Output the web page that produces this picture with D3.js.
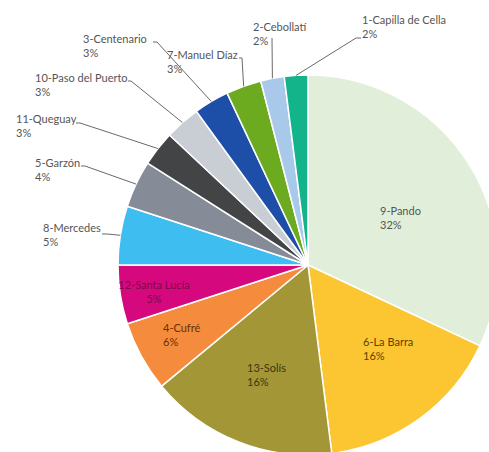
<!DOCTYPE html>
<html>
<head>
<meta charset="utf-8">
<script src="https://cdn.jsdelivr.net/npm/d3@7"></script>
<style>
  html, body { margin: 0; padding: 0; background: #fff; }
  svg { display: block; }
  text { font-family: Lato, "Open Sans", sans-serif; font-size: 11px; }
</style>
</head>
<body>
<svg id="chart" width="489" height="452"></svg>
<script>
// ---- data ----
const categories = ["9-Pando", "6-La Barra", "13-Solís", "4-Cufré", "12-Santa Lucía", "8-Mercedes",
  "5-Garzón", "11-Queguay", "10-Paso del Puerto", "3-Centenario", "7-Manuel Díaz", "2-Cebollatí", "1-Capilla de Cella"];
const values = [32, 16, 16, 6, 5, 5, 4, 3, 3, 3, 3, 2, 2];
const pctLabels = ["32%", "16%", "16%", "6%", "5%", "5%", "4%", "3%", "3%", "3%", "3%", "2%", "2%"];

// ---- styling / layout ----
const colors = ["#e1efda", "#fcc532", "#a39636", "#f58b3d", "#d5087d", "#3dbdf0",
  "#858b97", "#434446", "#c9cdd4", "#1d4fa9", "#6cab1f", "#a9c9ea", "#14b48b"];
const textColors = ["#555555", "#5a4300", "#3b3710", "#6a3000", "#7d0b4a", "#555", "#555", "#555", "#555", "#555", "#555", "#555", "#555"];
const labelLayout = [
  {x: 380, y: 215, anchor: "start"},
  {x: 363, y: 346, anchor: "start"},
  {x: 247, y: 372, anchor: "start"},
  {x: 163, y: 332, anchor: "start"},
  {x: 154, y: 289, anchor: "middle"},
  {x: 43, y: 232, anchor: "start", elbow: [[102, 234], [107, 234]]},
  {x: 35, y: 167, anchor: "start", elbow: [[81, 166], [85, 166]]},
  {x: 16, y: 123, anchor: "start", elbow: [[76, 123], [80, 123]]},
  {x: 35, y: 82, anchor: "start", elbow: [[128, 81], [131, 81]]},
  {x: 83, y: 43, anchor: "start", elbow: [[153, 42], [157, 42]]},
  {x: 167, y: 59, anchor: "start", elbow: [[239, 58], [242, 58]]},
  {x: 253, y: 31, anchor: "start", elbow: [[272, 38]]},
  {x: 362, y: 24, anchor: "start", elbow: [[361, 38], [356, 38]]}
];

const cx = 308, cy = 265, R = 190;
const svg = d3.select("#chart");
const g = svg.append("g").attr("transform", `translate(${cx},${cy})`);

const pie = d3.pie().sort(null).value(d => d)(values);
const arc = d3.arc().innerRadius(0).outerRadius(R);
const edge = d3.arc().innerRadius(R).outerRadius(R);

g.selectAll("path.slice").data(pie).join("path")
  .attr("class", "slice")
  .attr("d", arc)
  .attr("fill", (d, i) => colors[i])
  .attr("stroke", "#ffffff")
  .attr("stroke-width", 1.5)
  .attr("stroke-linejoin", "round");

// leader lines
const line = d3.line();
pie.forEach((d, i) => {
  const L = labelLayout[i];
  if (!L.elbow) return;
  const p = edge.centroid(d);
  const pts = L.elbow.map(q => [q[0] - cx, q[1] - cy]);
  pts.push(p);
  g.append("path")
    .attr("d", line(pts))
    .attr("fill", "none")
    .attr("stroke", "#6a6a6a")
    .attr("stroke-width", 1);
});

// labels
const lab = svg.append("g");
pie.forEach((d, i) => {
  const L = labelLayout[i];
  const t = lab.append("text")
    .attr("x", L.x).attr("y", L.y)
    .attr("text-anchor", L.anchor)
    .attr("fill", textColors[i]);
  t.append("tspan").attr("x", L.x).text(categories[i]);
  t.append("tspan").attr("x", L.x).attr("dy", 14).text(pctLabels[i]);
});
</script>
</body>
</html>
